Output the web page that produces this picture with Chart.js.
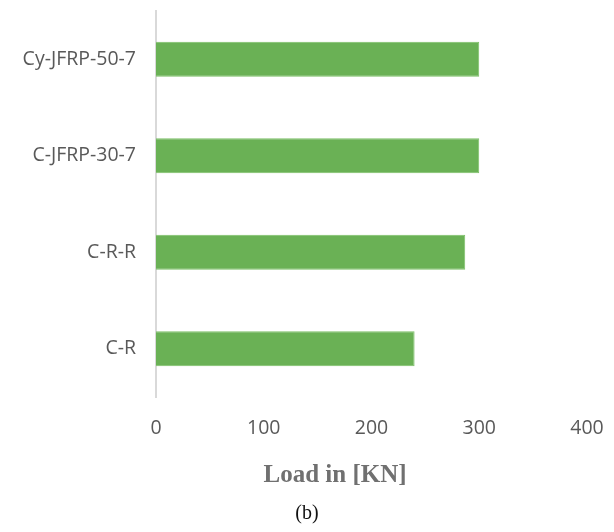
<!DOCTYPE html>
<html>
<head>
<meta charset="utf-8">
<script src="https://cdn.jsdelivr.net/npm/chart.js@4/dist/chart.umd.min.js"></script>
<style>
html,body{margin:0;padding:0;background:#fff;}
#wrap{width:614px;height:532px;}
</style>
</head>
<body>
<div id="wrap"><canvas id="c" width="614" height="532"></canvas></div>
<script>
const categories = ["Cy-JFRP-50-7", "C-JFRP-30-7", "C-R-R", "C-R"];
const loads = [300, 300, 287, 240];
const xTicks = [0, 100, 200, 300, 400];
const xTitle = "Load in [KN]";
const caption = "(b)";

const axisTitlePlugin = {
  id: 'axisTitle',
  afterDraw(chart) {
    const ctx = chart.ctx;
    ctx.save();
    ctx.font = 'bold 25px "Liberation Serif"';
    ctx.fillStyle = '#707070';
    ctx.textAlign = 'center';
    ctx.textBaseline = 'middle';
    ctx.fillText(xTitle, 335, 476);
    ctx.restore();
  }
};

new Chart(document.getElementById('c'), {
  type: 'bar',
  data: {
    labels: categories,
    datasets: [{
      data: loads,
      backgroundColor: '#6ab155',
      borderColor: '#7cc067',
      borderWidth: 1,
      barPercentage: 0.726,
      categoryPercentage: 0.5
    }]
  },
  plugins: [axisTitlePlugin],
  options: {
    indexAxis: 'y',
    responsive: false,
    animation: false,
    layout: { padding: { top: 11, right: 0, left: 0, bottom: 6 } },
    plugins: {
      legend: { display: false },
      tooltip: { enabled: false },
      title: {
        display: true,
        position: 'bottom',
        text: caption,
        color: '#111',
        font: { family: 'Liberation Serif', size: 20, weight: 'normal', lineHeight: 1.2 },
        padding: { top: 0, bottom: 0 }
      }
    },
    scales: {
      x: {
        min: 0, max: 400,
        afterBuildTicks: (s) => { s.ticks = xTicks.map(v => ({ value: v })); },
        grid: { display: false, drawTicks: false },
        border: { display: false },
        ticks: { color: '#595959', font: { family: 'Open Sans', size: 19.5 }, padding: 20, maxRotation: 0 },
        afterFit: (s) => { s.height = 105; s.paddingRight = 27; s.paddingLeft = 0; }
      },
      y: {
        grid: { display: false, drawTicks: false },
        border: { display: true, color: '#d9d9d9', width: 2 },
        ticks: { color: '#595959', font: { family: 'Open Sans', size: 19.5 }, padding: 20 },
        afterFit: (s) => { s.width = 156; s.paddingTop = 0; s.paddingBottom = 0; }
      }
    }
  }
});
</script>
</body>
</html>
